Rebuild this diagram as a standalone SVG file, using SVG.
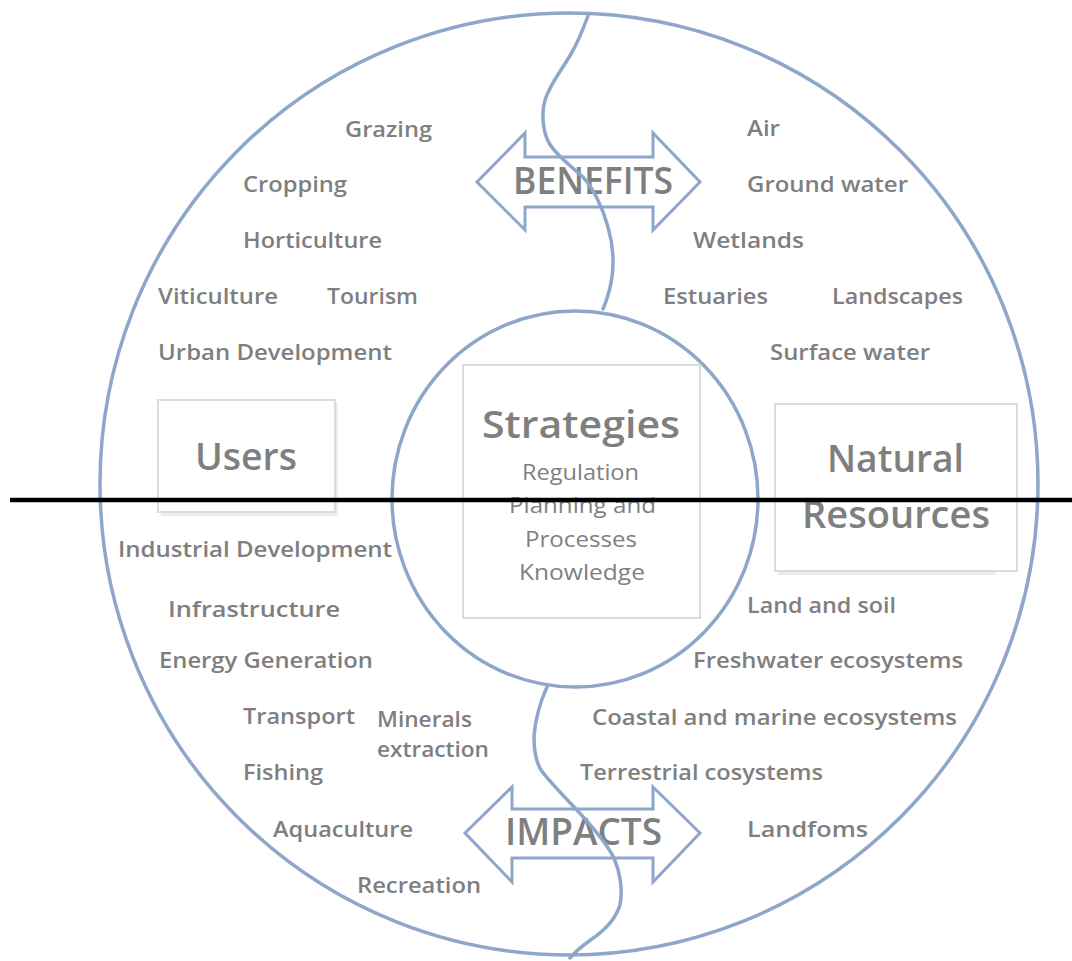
<svg xmlns="http://www.w3.org/2000/svg" width="1072" height="961" viewBox="0 0 1072 961">
<defs>
<style>
.ring{fill:none;stroke:#8ea6ca;stroke-width:3.5}
.river{fill:none;stroke:#8ea6ca;stroke-width:3.5;stroke-linejoin:round;stroke-linecap:round}
.arrow{fill:none;stroke:#8ea6ca;stroke-width:3;stroke-linejoin:miter}
.box{fill:#ffffff;stroke:#dcdcdc;stroke-width:2}
.shadow{fill:#ececec;stroke:none}
.lbl{font-family:"Open Sans","Liberation Sans",sans-serif;font-weight:600;font-size:22px;fill:#7f7f7f}
.big{font-family:"Open Sans","Liberation Sans",sans-serif;font-weight:600;font-size:37px;fill:#7f7f7f}
.sub{font-family:"Open Sans","Liberation Sans",sans-serif;font-weight:400;font-size:22px;fill:#7f7f7f}
</style>
</defs>
<rect x="0" y="0" width="1072" height="961" fill="#ffffff"/>

<g id="outer-circle">
<ellipse class="ring" cx="569" cy="484" rx="469" ry="471"/>
</g>

<g id="users">
<rect class="shadow" x="161" y="403" width="177" height="113"/>
<rect class="box" x="158" y="400" width="177" height="112"/>
<text class="big" x="195" y="470" textLength="102" lengthAdjust="spacingAndGlyphs">Users</text>
</g>

<g id="natural-resources">
<rect class="shadow" x="778" y="407" width="218" height="168"/>
<rect class="box" x="775" y="404" width="242" height="167"/>
<text class="big" x="827" y="472" textLength="137" lengthAdjust="spacingAndGlyphs">Natural</text>
<text class="big" x="802" y="528" textLength="188" lengthAdjust="spacingAndGlyphs">Resources</text>
</g>

<g id="strategies">
<ellipse class="ring" cx="575" cy="499" rx="183" ry="188"/>
<rect class="box" x="463" y="365" width="237" height="253"/>
<text class="big" x="482" y="438" font-size="42" textLength="198" lengthAdjust="spacingAndGlyphs">Strategies</text>
<text class="sub" x="522" y="480" textLength="117" lengthAdjust="spacingAndGlyphs">Regulation</text>
<text class="sub" x="509" y="513" textLength="147" lengthAdjust="spacingAndGlyphs">Planning and</text>
<text class="sub" x="525" y="547" textLength="112" lengthAdjust="spacingAndGlyphs">Processes</text>
<text class="sub" x="519" y="580" textLength="126" lengthAdjust="spacingAndGlyphs">Knowledge</text>
</g>

<g id="users-labels-top">
<text class="lbl" x="345" y="137" textLength="87" lengthAdjust="spacingAndGlyphs">Grazing</text>
<text class="lbl" x="243" y="192" textLength="104" lengthAdjust="spacingAndGlyphs">Cropping</text>
<text class="lbl" x="243" y="248" textLength="139" lengthAdjust="spacingAndGlyphs">Horticulture</text>
<text class="lbl" x="158" y="304" textLength="120" lengthAdjust="spacingAndGlyphs">Viticulture</text>
<text class="lbl" x="327" y="304" textLength="91" lengthAdjust="spacingAndGlyphs">Tourism</text>
<text class="lbl" x="158" y="360" textLength="234" lengthAdjust="spacingAndGlyphs">Urban Development</text>
</g>

<g id="resources-labels-top">
<text class="lbl" x="747" y="136" textLength="33" lengthAdjust="spacingAndGlyphs">Air</text>
<text class="lbl" x="747" y="192" textLength="161" lengthAdjust="spacingAndGlyphs">Ground water</text>
<text class="lbl" x="693" y="248" textLength="111" lengthAdjust="spacingAndGlyphs">Wetlands</text>
<text class="lbl" x="663" y="304" textLength="105" lengthAdjust="spacingAndGlyphs">Estuaries</text>
<text class="lbl" x="832" y="304" textLength="131" lengthAdjust="spacingAndGlyphs">Landscapes</text>
<text class="lbl" x="770" y="360" textLength="160" lengthAdjust="spacingAndGlyphs">Surface water</text>
</g>

<g id="users-labels-bottom">
<text class="lbl" x="118" y="557" textLength="274" lengthAdjust="spacingAndGlyphs">Industrial Development</text>
<text class="lbl" x="168" y="617" textLength="172" lengthAdjust="spacingAndGlyphs">Infrastructure</text>
<text class="lbl" x="159" y="668" textLength="214" lengthAdjust="spacingAndGlyphs">Energy Generation</text>
<text class="lbl" x="243" y="724" textLength="112" lengthAdjust="spacingAndGlyphs">Transport</text>
<text class="lbl" x="377" y="727" textLength="95" lengthAdjust="spacingAndGlyphs">Minerals</text>
<text class="lbl" x="377" y="757" textLength="112" lengthAdjust="spacingAndGlyphs">extraction</text>
<text class="lbl" x="243" y="780" textLength="80" lengthAdjust="spacingAndGlyphs">Fishing</text>
<text class="lbl" x="273" y="837" textLength="140" lengthAdjust="spacingAndGlyphs">Aquaculture</text>
<text class="lbl" x="357" y="893" textLength="124" lengthAdjust="spacingAndGlyphs">Recreation</text>
</g>

<g id="resources-labels-bottom">
<text class="lbl" x="747" y="613" textLength="149" lengthAdjust="spacingAndGlyphs">Land and soil</text>
<text class="lbl" x="693" y="668" textLength="270" lengthAdjust="spacingAndGlyphs">Freshwater ecosystems</text>
<text class="lbl" x="592" y="725" textLength="365" lengthAdjust="spacingAndGlyphs">Coastal and marine ecosystems</text>
<text class="lbl" x="580" y="780" textLength="243" lengthAdjust="spacingAndGlyphs">Terrestrial cosystems</text>
<text class="lbl" x="747" y="837" textLength="121" lengthAdjust="spacingAndGlyphs">Landfoms</text>
</g>

<g id="benefits">
<polygon class="arrow" points="477,182 525,133 525,157 653,157 653,133 700,182 653,230 653,207 525,207 525,230"/>
<text class="big" x="513" y="194" textLength="160" lengthAdjust="spacingAndGlyphs">BENEFITS</text>
</g>

<g id="impacts">
<polygon class="arrow" points="465,833 512,787 512,809 653,809 653,787 700,833 653,882 653,858 512,858 512,882"/>
<text class="big" x="505" y="845" textLength="157" lengthAdjust="spacingAndGlyphs">IMPACTS</text>
</g>

<g id="connectors">
<path class="river" d="M588,16 C582,32 578,42 571,54 C563,68 550,84 545,100 C541,114 543,132 549,143 C555,153 568,164 583,177 C593,188 603,208 608,227 C613,244 614,262 612,277 C610,290 607,300 603,309"/>
<path class="river" d="M547,687 C541,700 535,720 534,737 C534,752 536,762 541,770 C548,780 560,792 575,808 C590,824 606,842 614,858 C620,872 623,890 620,905 C616,918 605,930 592,939 C582,946 575,952 570,958"/>
<line x1="10" y1="500" x2="1072" y2="500" stroke="#000000" stroke-width="4.5"/>
</g>
</svg>
